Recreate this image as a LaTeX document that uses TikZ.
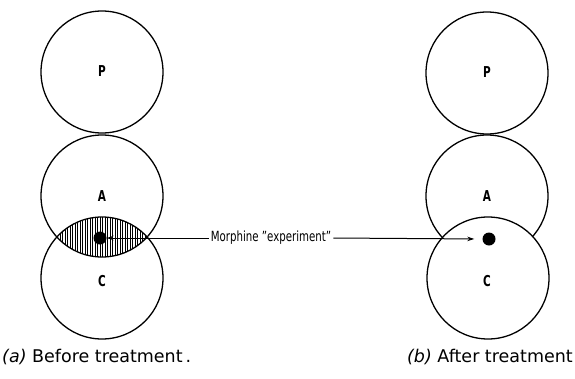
\documentclass[tikz,border=0pt]{standalone}
\usepackage{fontspec}
\setmainfont{DejaVu Sans}
\usetikzlibrary{arrows.meta}
\begin{document}
\begin{tikzpicture}[x=1pt,y=-1pt,
  ring/.style={circle,draw,line width=1.3pt,minimum size=122pt,inner sep=0pt},
  letter/.style={font=\fontsize{15}{16}\selectfont\bfseries},
  spot/.style={circle,fill=black,minimum size=13pt,inner sep=0pt},
  caption/.style={font=\fontsize{17.5}{20}\selectfont,inner sep=0pt},
  lead/.style={line width=1pt},
  tip/.style={-{Stealth[length=7pt,width=4.5pt]}}]
\useasboundingbox (0,0) rectangle (575,378);

% (a) before treatment: A and C overlap in a hatched lens
\begin{scope}
  \clip (102,196) circle (61);
  \clip (102,278) circle (61);
  \foreach \x in {50,52.5,...,152} \draw[line width=0.8pt] (\x,200) -- (\x,270);
\end{scope}
\node[ring] (Pa) at (102,72) {};
\node[ring] (Aa) at (102,196) {};
\node[ring] (Ca) at (102,278) {};
\node[letter] at (102,71) {\scalebox{0.7}[1]{P}};
\node[letter] at (102,196) {\scalebox{0.7}[1]{A}};
\node[letter] at (102,281) {\scalebox{0.7}[1]{C}};
\node[spot] (da) at (100,238) {};

% (b) after treatment: C lies over the lower part of A
\node[ring] (Pb) at (487,73) {};
\node[ring] (Ab) at (487,196) {};
\node[ring,fill=white] (Cb) at (488,278) {};
\node[letter] at (487,72) {\scalebox{0.7}[1]{P}};
\node[letter] at (487,196) {\scalebox{0.7}[1]{A}};
\node[letter] at (487,281) {\scalebox{0.7}[1]{C}};
\node[spot] (db) at (489,239) {};

% the experiment label and its two leaders
\node[inner sep=2pt,font=\fontsize{14}{16}\selectfont] (exp) at (271,238)
  {\scalebox{0.73}[1]{Morphine "experiment"}};
\draw[lead,tip] (exp.west) -- (da.east);
\draw[lead,tip,shorten >=8pt] (exp.east) -- (db.west);

% captions
\node[caption,anchor=west] (capa) at (2,357) {\textit{(a)} Before treatment\,.};
\node[caption,anchor=east] (capb) at (573,357) {\textit{(b)} After treatment};
\end{tikzpicture}
\end{document}
